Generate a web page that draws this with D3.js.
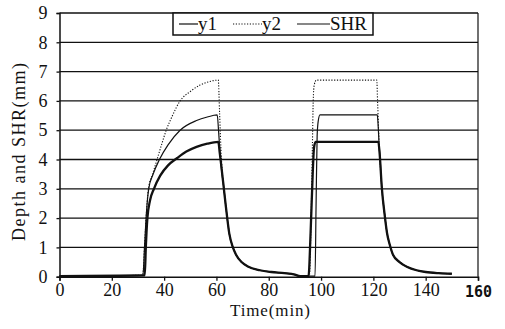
<!DOCTYPE html>
<html>
<head>
<meta charset="utf-8">
<script src="https://cdn.jsdelivr.net/npm/d3@7"></script>
<style>
  body { margin: 0; background: #fff; }
  svg { display: block; }
</style>
</head>
<body>
<svg id="chart" width="505" height="329"></svg>
<script>
// tick labels
const xTicks = [0, 20, 40, 60, 80, 100, 120, 140, 160];
const yTicks = [0, 1, 2, 3, 4, 5, 6, 7, 8, 9];

// SHR (thick solid)
const shrTime = [0, 32.6, 33.0, 33.6, 34.6, 36.1, 38.5, 41.5, 45, 48.5, 52.4, 56.5, 60.7, 61.3, 62.6, 63.6, 64.9, 66.3, 67.5, 69.6, 72, 76.6, 81, 86, 90, 92, 95.2, 96.0, 96.8, 97.3, 97.9, 110, 121.9, 122.4, 123.2, 124.4, 125.2, 126.3, 127.5, 130, 133, 136.5, 140, 145, 150];
const shrVals = [0.02, 0.05, 1.0, 2.0, 2.6, 3.0, 3.45, 3.8, 4.05, 4.27, 4.43, 4.54, 4.6, 4.2, 3.2, 2.4, 1.48, 1.0, 0.75, 0.5, 0.35, 0.22, 0.16, 0.12, 0.07, 0.02, 0.02, 1.5, 3.5, 4.4, 4.6, 4.6, 4.6, 4.2, 3.07, 2.05, 1.5, 1.08, 0.75, 0.5, 0.33, 0.22, 0.16, 0.12, 0.1];

// y1 (thin solid)
const y1Time = [0, 31.9, 32.5, 33.1, 34.1, 35.8, 38.2, 41.5, 46.1, 52.4, 56.5, 60.3, 60.8, 61.4, 62.0, 62.6, 63.6, 64.9, 66.3, 67.5, 69.6, 72, 76.6, 81, 86, 90, 92, 97.7, 98.1, 98.5, 98.9, 99.6, 110, 121.5, 121.8, 122.2, 122.6, 123.2, 124.4, 125.2, 126.3, 127.5, 130, 133, 136.5, 140, 145, 150];
const y1Vals = [0.02, 0.05, 1.0, 2.0, 3.0, 3.5, 4.0, 4.5, 5.0, 5.33, 5.45, 5.52, 5.0, 4.2, 3.6, 3.2, 2.4, 1.48, 1.0, 0.75, 0.5, 0.35, 0.22, 0.16, 0.12, 0.07, 0.02, 0.02, 2.5, 4.8, 5.3, 5.52, 5.52, 5.52, 5.2, 4.5, 4.0, 3.07, 2.05, 1.5, 1.08, 0.75, 0.5, 0.33, 0.22, 0.16, 0.12, 0.1];

// y2 (dotted)
const y2Time = [0, 31.8, 32.5, 33.1, 34.0, 35.6, 37.3, 39.0, 40.8, 43.2, 46.1, 50, 53.7, 57, 60.7, 61.2, 61.7, 62.2, 62.6, 63.6, 64.9, 66.3, 67.5, 69.6, 72, 76.6, 81, 86, 90, 92, 95.5, 96.2, 96.7, 97.0, 97.4, 98.2, 110, 121.3, 121.6, 122.0, 122.5, 123.2, 124.4, 125.2, 126.3, 127.5, 130, 133, 136.5, 140, 145, 150];
const y2Vals = [0.02, 0.05, 1.0, 2.0, 3.0, 3.5, 4.0, 4.5, 5.0, 5.5, 6.0, 6.32, 6.54, 6.65, 6.71, 5.6, 4.4, 3.6, 3.2, 2.4, 1.48, 1.0, 0.75, 0.5, 0.35, 0.22, 0.16, 0.12, 0.07, 0.02, 0.02, 2.0, 4.5, 6.0, 6.55, 6.71, 6.71, 6.71, 6.0, 5.0, 4.0, 3.07, 2.05, 1.5, 1.08, 0.75, 0.5, 0.33, 0.22, 0.16, 0.12, 0.1];

const svg = d3.select('#chart');
const ink = '#111';
const SERIF = '"Liberation Serif", "Times New Roman", serif';
const MONO = '"DejaVu Sans Mono", monospace';

const x = d3.scaleLinear().domain([0, 160]).range([59.5, 478]);
const y = d3.scaleLinear().domain([0, 9]).range([276.7, 13]);

// grid + frame
svg.append('g').selectAll('line').data(yTicks.slice(1)).join('line')
  .attr('x1', x(0)).attr('x2', x(160))
  .attr('y1', d => y(d)).attr('y2', d => y(d))
  .attr('stroke', ink).attr('stroke-width', 1.3);
svg.append('line')
  .attr('x1', x(160)).attr('x2', x(160)).attr('y1', y(9)).attr('y2', y(0))
  .attr('stroke', ink).attr('stroke-width', 1.2);

// axes
const xAxis = svg.append('g').attr('transform', `translate(0,${y(0)})`)
  .call(d3.axisBottom(x).tickValues(xTicks).tickSize(4).tickPadding(3).tickFormat(d3.format('d')));
const yAxis = svg.append('g').attr('transform', `translate(${x(0)},0)`)
  .call(d3.axisLeft(y).tickValues(yTicks).tickSize(3).tickPadding(9).tickFormat(d3.format('d')));

[xAxis, yAxis].forEach(g => {
  g.attr('font-family', SERIF).attr('font-size', 18);
  g.select('.domain').attr('stroke', ink).attr('stroke-width', 1.5);
  g.selectAll('.tick line').attr('stroke', ink).attr('stroke-width', 1.3);
  g.selectAll('.tick text').attr('fill', ink);
});
// the last x label is set in another typeface in the source
xAxis.selectAll('.tick text').filter(d => d === 160)
  .attr('font-family', MONO).attr('font-size', 15).attr('font-weight', 'bold').attr('dy', '0.9em');

// axis titles
svg.append('text')
  .attr('x', 270).attr('y', 316)
  .attr('text-anchor', 'middle')
  .attr('font-family', SERIF).attr('font-size', 17).attr('fill', ink)
  .attr('textLength', 80).attr('lengthAdjust', 'spacing')
  .text('Time(min)');
svg.append('text')
  .attr('transform', 'translate(25,152) rotate(-90)')
  .attr('text-anchor', 'middle')
  .attr('textLength', 178).attr('lengthAdjust', 'spacing')
  .attr('font-family', SERIF).attr('font-size', 18).attr('fill', ink)
  .text('Depth and SHR(mm)');

// series
const line = d3.line().x(d => x(d[0])).y(d => y(d[1])).curve(d3.curveMonotoneX);
const zip = (ts, vs) => ts.map((t, i) => [t, vs[i]]);

svg.append('path').datum(zip(y2Time, y2Vals))
  .attr('d', line).attr('fill', 'none')
  .attr('stroke', ink).attr('stroke-width', 1.1).attr('stroke-dasharray', '1.2,1.6');
svg.append('path').datum(zip(y1Time, y1Vals))
  .attr('d', line).attr('fill', 'none')
  .attr('stroke', ink).attr('stroke-width', 1.2);
svg.append('path').datum(zip(shrTime, shrVals))
  .attr('d', line).attr('fill', 'none')
  .attr('stroke', ink).attr('stroke-width', 2.3);

// legend
const legend = svg.append('g');
legend.append('rect')
  .attr('x', 173).attr('y', 13).attr('width', 200).attr('height', 22)
  .attr('fill', '#fff').attr('stroke', ink).attr('stroke-width', 1.5);
const legendItems = [
  { name: 'y1', x0: 179, x1: 198, dash: null },
  { name: 'y2', x0: 233, x1: 262, dash: '1.2,1.6' },
  { name: 'SHR', x0: 297, x1: 330, dash: null }
];
legendItems.forEach(it => {
  legend.append('line')
    .attr('x1', it.x0).attr('x2', it.x1).attr('y1', 24).attr('y2', 24)
    .attr('stroke', ink).attr('stroke-width', 1.2)
    .attr('stroke-dasharray', it.dash);
  legend.append('text')
    .attr('x', it.x1).attr('y', 30)
    .attr('font-family', SERIF).attr('font-size', 19).attr('fill', ink)
    .text(it.name);
});
</script>
</body>
</html>
